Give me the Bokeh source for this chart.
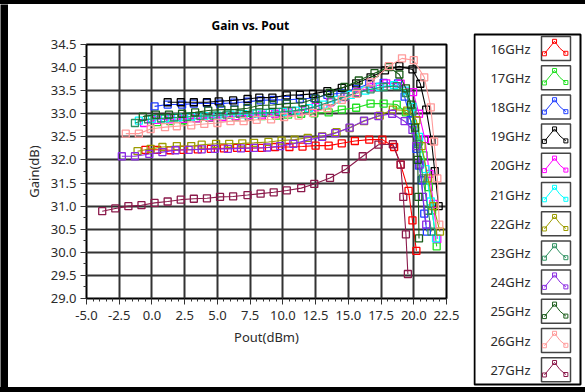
from bokeh.plotting import figure
from bokeh.models import Range1d, SingleIntervalTicker, PrintfTickFormatter, ColumnDataSource, Spacer
from bokeh.layouts import row, column
from bokeh.embed import file_html
from bokeh.resources import INLINE
from bokeh.core.properties import value

FREQS = ["16GHz", "17GHz", "18GHz", "19GHz", "20GHz", "21GHz",
         "22GHz", "23GHz", "24GHz", "25GHz", "26GHz", "27GHz"]
COLORS = ["#ff0000", "#22e022", "#1f3dff", "#000000", "#ff00ff", "#00ffff",
          "#9c9c00", "#2e9060", "#8a2be2", "#1a5c1a", "#ff9a9a", "#8b1a4b"]

X16 = [-0.5, 0.4, 1.4, 2.4, 3.5, 4.5, 5.5, 6.5, 7.4, 8.4, 9.4, 10.5, 11.5, 12.5, 13.5, 14.5, 15.5, 16.6, 17.6, 18.5, 19.0, 19.6, 19.9, 20.2]
Y16 = [32.22, 32.22, 32.21, 32.22, 32.23, 32.24, 32.25, 32.26, 32.26, 32.26, 32.28, 32.28, 32.29, 32.31, 32.31, 32.36, 32.41, 32.44, 32.44, 32.28, 31.90, 31.33, 30.69, 30.03]

X17 = [0.4, 1.4, 2.4, 3.5, 4.4, 5.4, 6.4, 7.4, 8.4, 9.5, 10.4, 11.4, 12.4, 13.5, 14.5, 15.6, 16.7, 17.7, 18.7, 19.4, 19.8, 20.1, 20.4, 20.75, 21.15, 21.4, 21.75]
Y17 = [32.82, 32.84, 32.86, 32.90, 32.91, 32.93, 32.94, 32.94, 32.95, 32.96, 32.98, 33.00, 33.01, 33.03, 33.09, 33.13, 33.22, 33.22, 33.20, 33.03, 32.85, 32.64, 32.40, 32.10, 31.41, 30.91, 30.13]

X18 = [0.2, 1.2, 2.3, 3.2, 4.2, 5.2, 6.3, 7.3, 8.3, 9.3, 10.3, 11.3, 12.4, 13.4, 14.4, 15.6, 16.6, 17.7, 18.8, 19.3, 19.75, 20.2, 20.4, 20.6, 20.8, 21.0]
Y18 = [33.16, 33.20, 33.20, 33.22, 33.23, 33.22, 33.24, 33.26, 33.29, 33.30, 33.30, 33.32, 33.34, 33.41, 33.45, 33.54, 33.65, 33.67, 33.66, 33.37, 32.86, 32.24, 31.88, 31.56, 30.84, 30.45]

X19 = [1.2, 2.2, 3.2, 4.2, 5.1, 6.2, 7.3, 8.2, 9.2, 10.3, 11.3, 12.3, 13.4, 14.5, 15.6, 16.7, 17.8, 18.9, 19.9, 20.5, 20.95, 21.35, 21.6, 21.9]
Y19 = [33.25, 33.25, 33.25, 33.25, 33.27, 33.29, 33.32, 33.35, 33.35, 33.40, 33.41, 33.43, 33.49, 33.56, 33.66, 33.79, 33.94, 34.03, 33.96, 33.65, 33.09, 32.42, 31.76, 31.00]

X20 = [-0.6, 0.4, 1.4, 2.4, 3.4, 4.4, 5.4, 6.4, 7.4, 8.4, 9.4, 10.4, 11.5, 12.5, 13.6, 14.7, 15.7, 16.75, 17.9, 19.0, 19.95, 20.4, 20.85, 21.2, 21.5, 21.8]
Y20 = [32.80, 32.87, 32.88, 32.89, 32.90, 32.92, 32.93, 32.95, 32.97, 32.98, 33.00, 33.03, 33.07, 33.15, 33.25, 33.36, 33.47, 33.58, 33.66, 33.65, 33.47, 33.00, 32.45, 31.70, 31.05, 30.29]

X21 = [-1.0, 0.0, 1.0, 2.0, 3.0, 4.0, 5.0, 6.0, 7.0, 8.0, 9.0, 10.0, 11.0, 12.0, 13.1, 14.1, 15.2, 16.3, 17.4, 18.5, 19.4, 19.9, 20.4, 20.9, 21.3, 21.7]
Y21 = [32.85, 32.89, 32.90, 32.92, 32.94, 32.95, 32.96, 32.98, 32.99, 33.01, 33.02, 33.04, 33.07, 33.12, 33.20, 33.30, 33.41, 33.50, 33.58, 33.62, 33.50, 33.15, 32.50, 31.80, 31.10, 30.30]

X22 = [-1.1, -0.1, 0.8, 1.9, 3.0, 3.8, 4.9, 5.9, 6.9, 7.8, 8.9, 9.9, 10.9, 11.9, 13.0, 14.1, 15.1, 16.2, 17.4, 18.4, 19.5, 20.2, 20.6, 21.1, 21.5, 22.0]
Y22 = [32.19, 32.24, 32.28, 32.30, 32.30, 32.33, 32.35, 32.35, 32.36, 32.37, 32.39, 32.42, 32.44, 32.48, 32.51, 32.60, 32.69, 32.84, 32.96, 33.09, 33.07, 32.86, 32.30, 31.60, 31.00, 30.45]

X23 = [-1.3, -0.3, 0.7, 1.7, 2.7, 3.7, 4.7, 5.7, 6.7, 7.7, 8.7, 9.7, 10.7, 11.7, 12.7, 13.7, 14.7, 15.7, 16.7, 17.7, 18.7, 19.4, 19.9, 20.3, 20.7, 21.1, 21.35]
Y23 = [32.80, 32.88, 32.90, 32.92, 32.93, 32.95, 32.96, 32.98, 33.00, 33.01, 33.02, 33.04, 33.06, 33.10, 33.17, 33.27, 33.37, 33.45, 33.53, 33.58, 33.60, 33.45, 33.05, 32.35, 31.60, 30.90, 30.45]

X24 = [-2.3, -1.3, -0.2, 0.8, 1.8, 2.8, 3.8, 4.8, 5.8, 6.8, 7.8, 8.8, 9.8, 10.8, 11.9, 13.0, 14.0, 15.1, 16.2, 17.3, 18.35, 19.3, 19.9, 20.2, 20.45, 20.7, 20.95]
Y24 = [32.08, 32.08, 32.13, 32.17, 32.21, 32.22, 32.23, 32.24, 32.24, 32.25, 32.26, 32.27, 32.30, 32.35, 32.43, 32.50, 32.58, 32.70, 32.85, 32.95, 33.00, 32.84, 32.65, 32.30, 31.90, 31.20, 30.60]

X25 = [-0.7, 0.3, 1.3, 2.3, 3.3, 4.3, 5.3, 6.3, 7.3, 8.2, 9.2, 10.3, 11.5, 12.5, 13.6, 14.7, 15.8, 17.0, 18.1, 18.9, 19.4, 19.8, 20.1, 20.3, 20.35, 20.4]
Y25 = [32.94, 32.98, 32.98, 33.00, 33.03, 33.07, 33.09, 33.09, 33.12, 33.18, 33.19, 33.22, 33.24, 33.33, 33.45, 33.58, 33.72, 33.88, 34.01, 33.85, 33.55, 33.20, 32.70, 32.00, 31.20, 30.30]

X26 = [-2.0, -1.0, -0.1, 1.0, 1.9, 3.0, 4.0, 5.0, 6.0, 7.0, 8.0, 9.1, 10.1, 11.2, 12.3, 13.4, 14.5, 15.6, 16.7, 18.1, 19.1, 20.0, 20.8, 21.3, 21.55, 21.8, 21.95]
Y26 = [32.57, 32.57, 32.67, 32.71, 32.73, 32.75, 32.78, 32.80, 32.84, 32.84, 32.87, 32.88, 32.93, 32.96, 33.02, 33.12, 33.30, 33.43, 33.68, 34.03, 34.20, 34.16, 33.79, 33.14, 32.40, 31.60, 30.60]

X27 = [-3.8, -2.8, -1.8, -0.8, 0.2, 1.2, 2.2, 3.2, 4.2, 5.2, 6.2, 7.3, 8.3, 9.3, 10.3, 11.4, 12.4, 13.6, 14.8, 16.1, 17.3, 18.4, 19.0, 19.2, 19.4, 19.55]
Y27 = [30.89, 30.95, 31.00, 31.02, 31.07, 31.10, 31.14, 31.16, 31.17, 31.20, 31.21, 31.24, 31.27, 31.30, 31.34, 31.39, 31.48, 31.61, 31.80, 32.08, 32.33, 32.34, 31.90, 31.20, 30.39, 29.53]

SERIES_X = [X16, X17, X18, X19, X20, X21, X22, X23, X24, X25, X26, X27]
SERIES_Y = [Y16, Y17, Y18, Y19, Y20, Y21, Y22, Y23, Y24, Y25, Y26, Y27]

TITLE = "Gain vs. Pout"
XLABEL = "Pout(dBm)"
YLABEL = "Gain(dB)"

FONT = "Noto Sans"
TXT = "#2b2b2b"
GRID = "#333333"

# overall frame: black bands around the chart
TOP_BAND, LEFT_BAND, BOTTOM_BAND = 4, 8, 5
TOTAL_W, TOTAL_H = 585, 392
MAIN_W = 465
INNER_H = TOTAL_H - TOP_BAND - BOTTOM_BAND
LEG_W = TOTAL_W - LEFT_BAND - MAIN_W


def vstrip(w, h):
    s = figure(width=w, height=h, output_backend="svg", toolbar_location=None,
               min_border=0, x_axis_location=None, y_axis_location=None,
               x_range=Range1d(0, 1), y_range=Range1d(0, 1))
    s.background_fill_color = "black"
    s.border_fill_color = "black"
    s.outline_line_color = None
    s.grid.visible = False
    s.frame_align = False
    return s


def hstrip(w, h):
    return Spacer(width=w, height=h, styles={"background-color": "black"})


p = figure(width=MAIN_W, height=INNER_H, x_range=Range1d(-5, 22.5), y_range=Range1d(29, 34.5),
           output_backend="svg", toolbar_location=None,
           min_border_left=78, min_border_right=27, min_border_top=40, min_border_bottom=89,
           title=TITLE)
p.frame_align = False
p.title.text_font = FONT
p.title.text_font_size = "12px"
p.title.text_font_style = "bold"
p.title.text_color = "black"
p.title.align = "left"
p.title.offset = 125
p.title.standoff = 21

p.xaxis.ticker = SingleIntervalTicker(interval=2.5, num_minor_ticks=5)
p.yaxis.ticker = SingleIntervalTicker(interval=0.5, num_minor_ticks=2)
p.xaxis.formatter = PrintfTickFormatter(format="%.1f")
p.yaxis.formatter = PrintfTickFormatter(format="%.1f")
for ax in (p.xaxis, p.yaxis):
    ax.major_label_text_font = FONT
    ax.major_label_text_font_size = "13px"
    ax.major_label_text_color = TXT
    ax.axis_label_text_font = FONT
    ax.axis_label_text_font_size = "13px"
    ax.axis_label_text_font_style = "normal"
    ax.axis_label_text_color = TXT
    ax.axis_line_color = "black"
    ax.major_tick_line_color = "#333333"
    ax.minor_tick_line_color = "#333333"
    ax.major_tick_in = 0
    ax.major_tick_out = 6
    ax.minor_tick_in = 0
    ax.minor_tick_out = 3
p.xaxis.axis_label = XLABEL
p.yaxis.axis_label = YLABEL
p.xaxis.major_label_standoff = 6
p.yaxis.major_label_standoff = 4
p.xaxis.axis_label_standoff = 5
p.yaxis.axis_label_standoff = 5

p.grid.grid_line_color = GRID
p.grid.grid_line_width = 2
p.outline_line_color = "black"
p.outline_line_width = 2

for xs, ys, c in zip(SERIES_X, SERIES_Y, COLORS):
    src = ColumnDataSource(dict(x=xs, y=ys))
    p.line("x", "y", source=src, line_color=c, line_width=1.1)
    p.scatter("x", "y", source=src, marker="square", size=7, fill_alpha=0,
              line_color=c, line_width=1.3)

# legend panel (local pixel coordinates, y pointing down)
lg = figure(width=LEG_W, height=INNER_H, x_range=Range1d(0, LEG_W), y_range=Range1d(INNER_H, 0),
            output_backend="svg", toolbar_location=None, min_border=0,
            x_axis_location=None, y_axis_location=None)
lg.frame_align = False
lg.grid.visible = False
lg.outline_line_color = None

BOX_L, BOX_R, BOX_T, BOX_B = 1, 107, 30, 380
lg.rect(x=[(BOX_L + BOX_R) / 2], y=[(BOX_T + BOX_B) / 2], width=BOX_R - BOX_L, height=BOX_B - BOX_T,
        fill_color="white", line_color="black", line_width=2)

ROW0, ROWSTEP = 44, 29.2
LABEL_X = 57
ICON_L, ICON_W, ICON_H = 68, 29, 24
ICON_FX = [0.1, 0.45, 0.64, 0.84]
ICON_FY = [0.72, 0.2, 0.5, 0.7]

n = len(FREQS)
cys = [ROW0 + ROWSTEP * i for i in range(n)]
lg.text(x=[LABEL_X] * n, y=cys, text=FREQS, text_font=value(FONT), text_font_size="13px",
        text_color=TXT, text_align="right", text_baseline="middle")
lg.rect(x=[ICON_L + ICON_W / 2] * n, y=cys, width=ICON_W, height=ICON_H,
        fill_color="white", line_color="#444444", line_width=1.5)
ixs = [[ICON_L + fx * ICON_W for fx in ICON_FX] for _ in range(n)]
iys = [[cy - ICON_H / 2 + fy * ICON_H for fy in ICON_FY] for cy in cys]
lg.multi_line(xs=ixs, ys=iys, line_color=COLORS, line_width=1)
mx, my, mc = [], [], []
for i in range(n):
    for k in (0, 1, 3):
        mx.append(ixs[i][k]); my.append(iys[i][k]); mc.append(COLORS[i])
lg.scatter(x=mx, y=my, marker="square", size=4, fill_alpha=0, line_color=mc, line_width=1)

layout = column(hstrip(TOTAL_W, TOP_BAND),
                row(vstrip(LEFT_BAND, INNER_H), p, lg),
                hstrip(TOTAL_W, BOTTOM_BAND))
open("out.html", "w").write(file_html(layout, INLINE))
